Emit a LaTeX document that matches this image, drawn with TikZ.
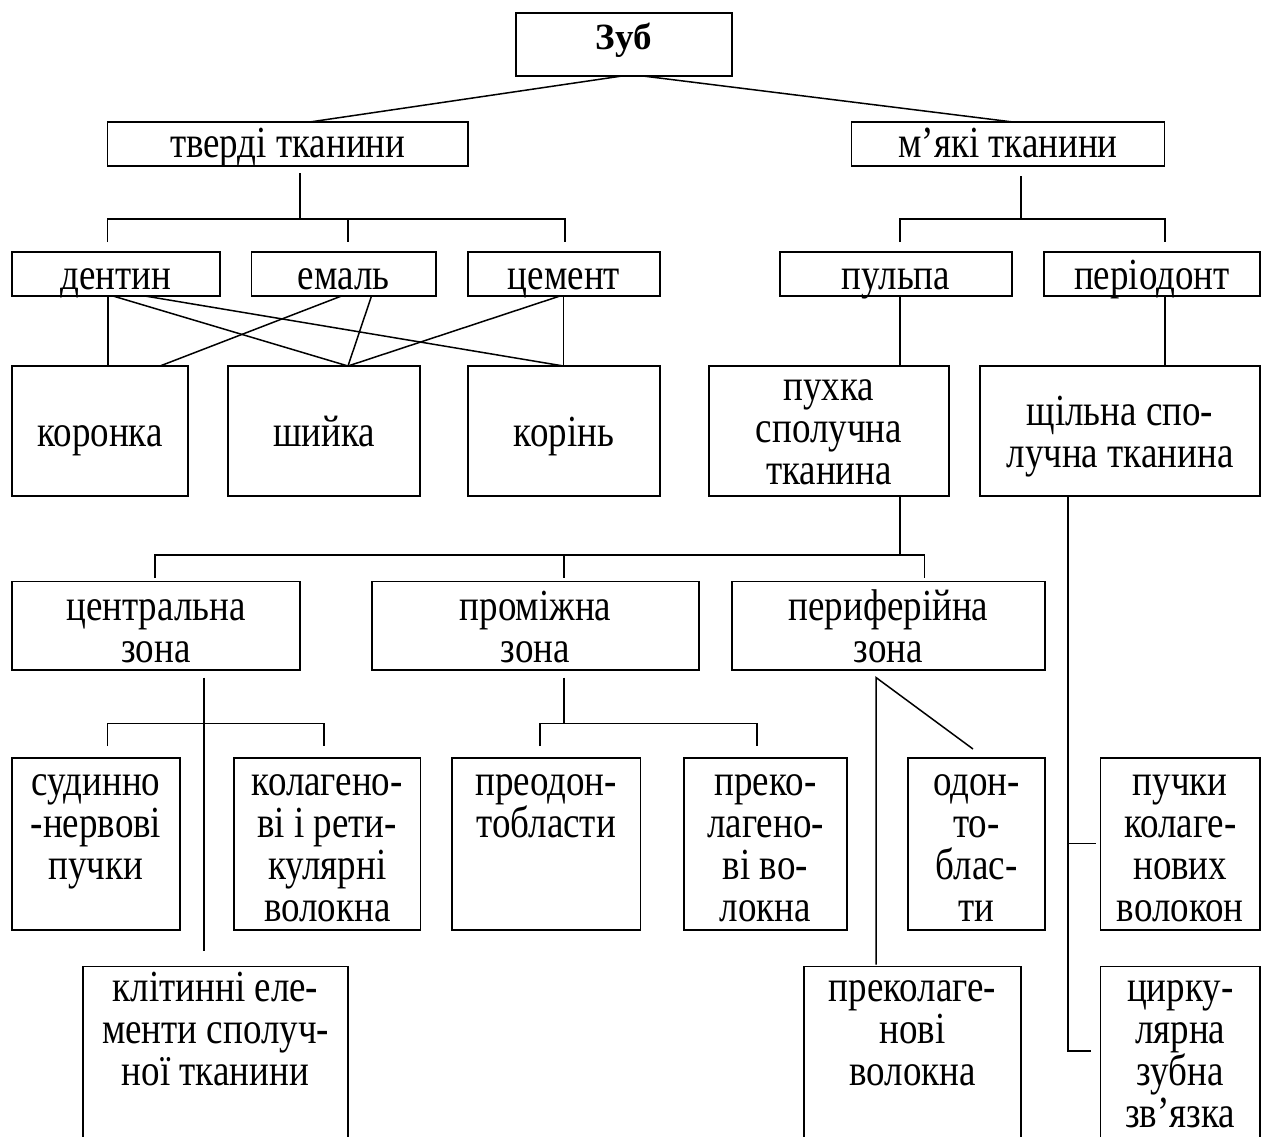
\documentclass[tikz,border=0pt]{standalone}
\usepackage{fontspec}
\setmainfont{Liberation Serif}
\usepackage{graphicx}
\usetikzlibrary{calc}
% #1 width, #2 height, #3 first baseline from top (all in px of the final picture), #4 lines
\newcommand{\bx}[4]{\scalebox{1}[1.2]{\parbox[c][\dimexpr #2pt*5/6\relax][t]{#1pt}{\centering\fontsize{37}{35}\selectfont\rule{0pt}{\dimexpr #3pt*5/6\relax}#4\par}}}
\begin{document}
\begin{tikzpicture}[x=1pt, y=-1pt, line width=1.5pt,
  box/.style={draw, inner sep=0pt, outer sep=0pt, anchor=north west}]
\useasboundingbox (0,0) rectangle (1261,1136);
\fill[white] (0,0) rectangle (1261,1136);
\clip (0,0) rectangle (1261,1136);

% ---------- boxes ----------
\node[box] (zub) at (516,13) {\parbox[c][63pt][t]{216pt}{\centering\fontsize{37}{37}\bfseries\rule{0pt}{36pt}Зуб\par}};
\node[box] (tverdi) at (107.5,122) {\bx{360.5}{44}{35}{тверді тканини}};
\node[box] (myaki) at (851.5,122) {\bx{313}{44}{35}{м’які тканини}};
\node[box] (dentyn) at (12,252) {\bx{208}{44}{37}{дентин}};
\node[box] (emal) at (251.5,252) {\bx{184.5}{44}{37}{емаль}};
\node[box] (tsement) at (468,252) {\bx{192}{44}{37}{цемент}};
\node[box] (puljpa) at (780,252) {\bx{232}{44}{37}{пульпа}};
\node[box] (periodont) at (1044,252) {\bx{216}{44}{37}{періодонт}};
\node[box] (koronka) at (12,366) {\bx{176}{130}{80}{коронка}};
\node[box] (shyjka) at (228,366) {\bx{192}{130}{80}{шийка}};
\node[box] (korin) at (468,366) {\bx{192}{130}{80}{корінь}};
\node[box] (pukhka) at (709,366) {\bx{240}{130}{34}{пухка\\сполучна\\тканина}};
\node[box] (shchilna) at (980,366) {\bx{280}{130}{59}{щільна спо-\\лучна тканина}};
\node[box] (tsentr) at (12,581.5) {\bx{288}{88.5}{38.5}{центральна\\зона}};
\node[box] (promizh) at (372,581.5) {\bx{327}{88.5}{38.5}{проміжна\\зона}};
\node[box] (peryf) at (732,581.5) {\bx{313}{88.5}{38.5}{периферійна\\зона}};
\node[box] (sudynno) at (12,758) {\bx{168}{172}{37}{судинно\\-нервові\\пучки}};
\node[box] (kolag) at (234,758) {\bx{186.5}{172}{37}{колагено-\\ві і рети-\\кулярні\\волокна}};
\node[box] (preodon) at (452,758) {\bx{188.5}{172}{37}{преодон-\\тобласти}};
\node[box] (prekolagA) at (684,758) {\bx{163}{172}{37}{преко-\\лагено-\\ві во-\\локна}};
\node[box] (odont) at (908,758) {\bx{137}{172}{37}{одон-\\то-\\блас-\\ти}};
\node[box] (puchky) at (1100.5,758) {\bx{159.5}{172}{37}{пучки\\колаге-\\нових\\волокон}};
\node[box] (klityn) at (83,966.5) {\bx{265}{200}{34.5}{клітинні еле-\\менти сполуч-\\ної тканини}};
\node[box] (prekolagB) at (804,966.5) {\bx{217}{200}{34.5}{преколаге-\\нові\\волокна}};
\node[box] (tsyrk) at (1100.5,966.5) {\bx{159.5}{200}{34.5}{цирку-\\лярна\\зубна\\зв’язка}};

% ---------- junction coordinates ----------
\coordinate (tv) at (300,219);
\coordinate (tvL) at (107.5,219);
\coordinate (tvM) at (348,219);
\coordinate (tvR) at (565,219);
\coordinate (mk) at (1021,219);
\coordinate (mkL) at (900,219);
\coordinate (mkR) at (1165,219);
\coordinate (zb) at (900,555);
\coordinate (zL) at (155,555);
\coordinate (zM) at (564,555);
\coordinate (zR) at (924.5,555);
\coordinate (cv) at (204,723.6);
\coordinate (cL) at (107.5,723.6);
\coordinate (cR) at (324,723.6);
\coordinate (pv) at (564,723.6);
\coordinate (pL) at (540,723.6);
\coordinate (pR) at (757,723.6);
\coordinate (fv) at (876,677.5);
\coordinate (sv) at (1068,843.5);
\coordinate (svb) at (1068,1051);

% ---------- connectors ----------
% Зуб
\draw ($(zub.south)+(-2,0)$) -- ($(tverdi.north)+(22,0)$);
\draw ($(zub.south)+(19,0)$) -- ($(myaki.north)+(5,0)$);
% тверді тканини
\draw ($(tverdi.south -| tv)+(0,7)$) -- (tv);
\draw ($(dentyn.north -| tvL)+(0,-10)$) -- (tvL) -- (tvR) -- ($(tsement.north -| tvR)+(0,-10)$);
\draw (tvM) -- ($(emal.north -| tvM)+(0,-10)$);
% м'які тканини
\draw ($(myaki.south -| mk)+(0,10)$) -- (mk);
\draw ($(puljpa.north -| mkL)+(0,-10)$) -- (mkL) -- (mkR) -- ($(periodont.north -| mkR)+(0,-10)$);
\draw (puljpa.south -| mkL) -- (pukhka.north -| mkL);
\draw (periodont.south -| mkR) -- (shchilna.north -| mkR);
% тканини -> частини зуба
\draw ($(dentyn.south west)+(96,0)$) -- ($(koronka.north west)+(96,0)$);
\draw ($(dentyn.south west)+(101,0)$) -- ($(shyjka.north west)+(120,0)$);
\draw ($(dentyn.south west)+(133,0)$) -- ($(korin.north west)+(95.5,0)$);
\draw ($(emal.south west)+(90,0)$) -- ($(koronka.north west)+(148,0)$);
\draw ($(emal.south west)+(120,0)$) -- ($(shyjka.north west)+(120,0)$);
\draw ($(tsement.south west)+(92,0)$) -- ($(shyjka.north west)+(120,0)$);
\draw ($(tsement.south west)+(95.5,0)$) -- ($(korin.north west)+(95.5,0)$);
% пухка -> зони
\draw (pukhka.south -| zb) -- (zb);
\draw ($(tsentr.north -| zL)+(0,-3.5)$) -- (zL) -- (zR) -- ($(peryf.north -| zR)+(0,-3.5)$);
\draw (zM) -- ($(promizh.north -| zM)+(0,-3.5)$);
% центральна зона
\draw ($(tsentr.south -| cv)+(0,7.5)$) -- ($(klityn.north -| cv)+(0,-16)$);
\draw ($(sudynno.north -| cL)+(0,-12)$) -- (cL) -- (cR) -- ($(kolag.north -| cR)+(0,-12)$);
% проміжна зона
\draw ($(promizh.south -| pv)+(0,7.5)$) -- (pv);
\draw ($(preodon.north -| pL)+(0,-12)$) -- (pL) -- (pR) -- ($(prekolagA.north -| pR)+(0,-12)$);
% периферійна зона
\draw ($(prekolagB.north -| fv)+(0,-2)$) -- (fv) -- ($(odont.north west)+(65,-9)$);
% щільна сполучна тканина
\draw (shchilna.south -| svb) -- (svb) -- ($(tsyrk.west |- svb)+(-9.5,0)$);
\draw (sv) -- ($(puchky.west |- sv)+(-5,0)$);
\end{tikzpicture}
\end{document}
